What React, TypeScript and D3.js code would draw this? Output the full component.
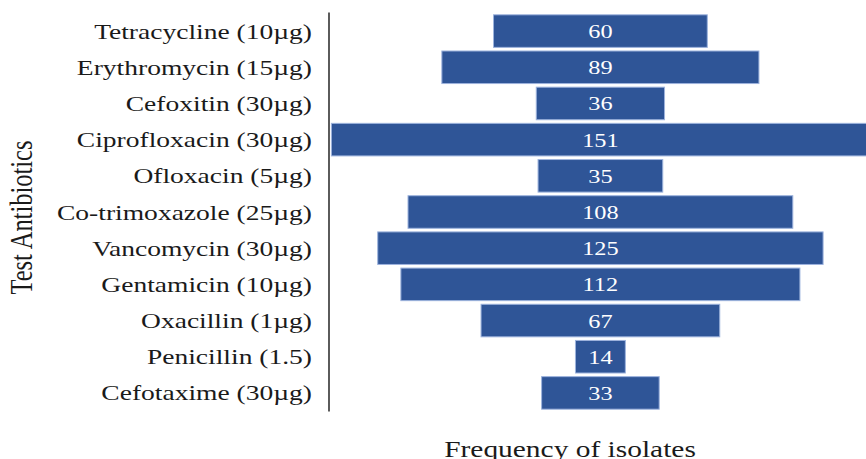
import React from "react";
import * as d3 from "d3";

const categories = [
  "Tetracycline (10µg)",
  "Erythromycin (15µg)",
  "Cefoxitin (30µg)",
  "Ciprofloxacin (30µg)",
  "Ofloxacin (5µg)",
  "Co-trimoxazole (25µg)",
  "Vancomycin (30µg)",
  "Gentamicin (10µg)",
  "Oxacillin (1µg)",
  "Penicillin (1.5)",
  "Cefotaxime (30µg)",
];
const values = [60, 89, 36, 151, 35, 108, 125, 112, 67, 14, 33];
const xTitle = "Frequency of isolates";
const yTitle = "Test Antibiotics";

const W = 866;
const H = 459;
const SX = 1.28;
const FONT = "'Liberation Serif', 'Times New Roman', serif";

export default function App() {
  const y = d3.scaleBand<string>().domain(categories).range([13, 411]).paddingInner(0.1).paddingOuter(0.05);
  const maxV = d3.max(values) as number;
  const x = d3.scaleLinear().domain([-maxV / 2, maxV / 2]).range([331.4, 869.4]);
  const bw = y.bandwidth();

  return (
    <svg
      width={W}
      height={H}
      style={{ position: "absolute", left: 0, top: 0, background: "#fff", overflow: "hidden" }}
      fontFamily={FONT}
    >
      {categories.map((c, i) => {
        const v = values[i];
        const y0 = y(c) as number;
        const cy = y0 + bw / 2;
        return (
          <g key={c}>
            <rect
              x={x(-v / 2)}
              y={y0}
              width={x(v / 2) - x(-v / 2)}
              height={bw}
              fill="#2F5597"
              stroke="#9DB3DD"
              strokeWidth={1}
            />
            <text
              transform={`translate(${x(0)},${cy + 7}) scale(${SX},1)`}
              textAnchor="middle"
              fontSize={19}
              fill="#ffffff"
            >
              {v}
            </text>
            <text
              transform={`translate(312,${cy + 7.5}) scale(${SX},1)`}
              textAnchor="end"
              fontSize={21.5}
              fill="#1a1a1a"
            >
              {c}
            </text>
          </g>
        );
      })}
      <line x1={329} x2={329} y1={12.5} y2={411.5} stroke="#333" strokeWidth={1.6} />
      <text
        transform={`translate(32,217.5) scale(${SX},1) rotate(-90)`}
        textAnchor="middle"
        fontSize={24.5}
        fill="#1a1a1a"
      >
        {yTitle}
      </text>
      <text
        transform={`translate(570,457) scale(${SX},1)`}
        textAnchor="middle"
        fontSize={23}
        fill="#1a1a1a"
      >
        {xTitle}
      </text>
    </svg>
  );
}
